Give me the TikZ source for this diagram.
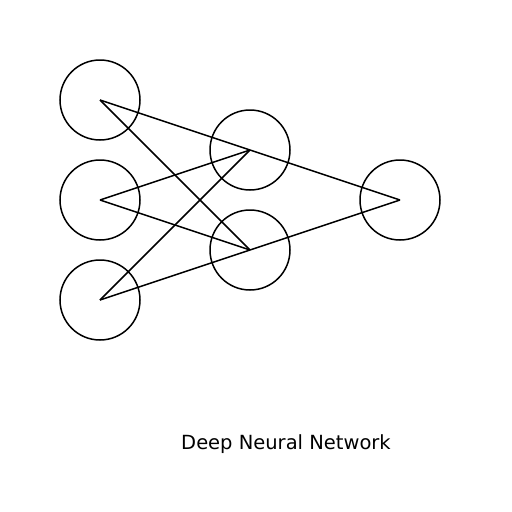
\documentclass[tikz,border=0pt]{standalone}
\usepackage{fontspec}
\setmainfont{DejaVu Sans}
\tikzset{
  neuron/.style={draw,circle,minimum size=80pt,inner sep=0pt,line width=1.5pt},
  link/.style={line width=1.5pt}
}
\begin{document}
\begin{tikzpicture}[x=1pt,y=-1pt]
        \useasboundingbox (0,0) rectangle (512,512);
        % input layer
        \node[neuron] (in1) at (100,100) {};
        \node[neuron] (in2) at (100,200) {};
        \node[neuron] (in3) at (100,300) {};
        % hidden layer
        \node[neuron] (hid1) at (250,150) {};
        \node[neuron] (hid2) at (250,250) {};
        % output
        \node[neuron] (out) at (400,200) {};
        % links
        \foreach \i in {1,2,3} {
            \draw[link] (in\i.center) -- (hid1.center);
            \draw[link] (in\i.center) -- (hid2.center);
        }
        \draw[link] (hid1.center) -- (out.center);
        \draw[link] (hid2.center) -- (out.center);
        % text
        \node (title) at (286,444.5) {\fontsize{19.5}{23}\selectfont Deep Neural Network};
\end{tikzpicture}
\end{document}
